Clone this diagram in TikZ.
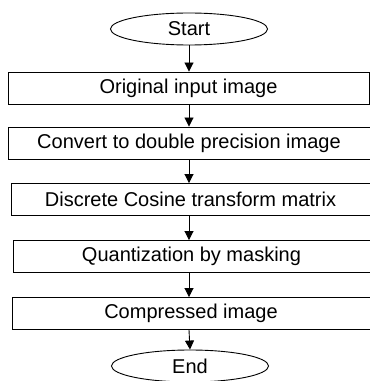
\documentclass[tikz,border=0pt]{standalone}
\usepackage{fontspec}
\setmainfont{Liberation Sans}
\usetikzlibrary{shapes.geometric,arrows.meta}

\begin{document}
\begin{tikzpicture}[x=1pt,y=1pt,
    every node/.style={font=\fontsize{20}{22}\selectfont, inner sep=0pt},
    stepbox/.style={draw, line width=0.9pt, minimum height=32pt},
    terminal/.style={draw, ellipse, line width=0.9pt, minimum width=157pt, minimum height=32pt},
    flow/.style={-{Triangle[length=9pt,width=9pt]}, line width=0.9pt}]
    \useasboundingbox (0,0) rectangle (370,381);
    \node[terminal] (start) at (189,352) {Start};
    \node[stepbox, minimum width=361pt] (orig) at (188.5,293) {Original input image};
    \node[stepbox, minimum width=362pt] (conv) at (189,238) {Convert to double precision image};
    \node[stepbox, minimum width=359pt] (dct) at (190.5,181.5) {Discrete Cosine transform matrix};
    \node[stepbox, minimum width=357pt] (quant) at (191.5,124.5) {Quantization by masking};
    \node[stepbox, minimum width=358pt] (comp) at (191,67.5) {Compressed image};
    \node[terminal] (end) at (190,15) {End};
    \path [flow] (start.south) edge (start.south |- orig.north);
    \path [flow] (orig.south -| start.south) edge (start.south |- conv.north);
    \path [flow] (conv.south -| start.south) edge (start.south |- dct.north);
    \path [flow] (dct.south -| start.south) edge (start.south |- quant.north);
    \path [flow] (quant.south -| start.south) edge (start.south |- comp.north);
    \path [flow] (comp.south -| start.south) edge (end.north);
\end{tikzpicture}
\end{document}
